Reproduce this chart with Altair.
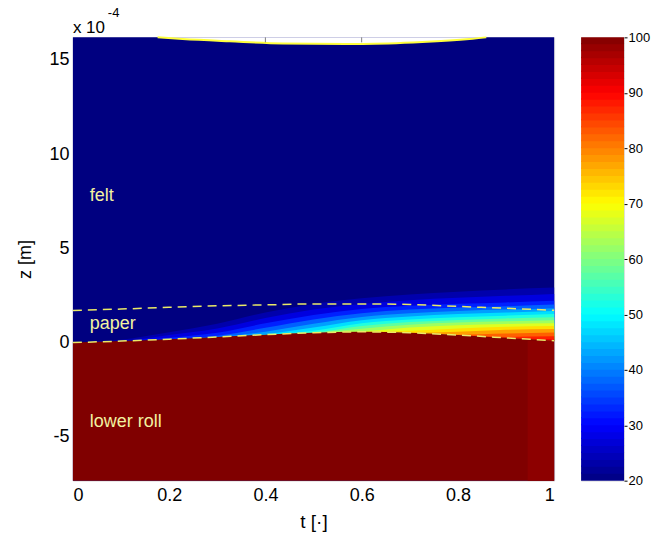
import altair as alt
import pandas as pd

# ---------------- data ----------------
t_stations = [0.0, 0.1, 0.2, 0.3, 0.4, 0.5, 0.6, 0.7, 0.8, 0.9, 1.0]
# lower roll surface (= lower paper boundary), units of 1e-4 m
roll_top = [0.00, 0.08, 0.18, 0.30, 0.42, 0.52, 0.57, 0.52, 0.40, 0.25, 0.10]
# upper paper boundary
paper_top = [1.70, 1.78, 1.87, 1.95, 2.00, 2.05, 2.05, 2.02, 1.92, 1.82, 1.71]

# isotherm heights (z below which T >= level) at each t station
levels = [22, 25, 30, 35, 40, 45, 50, 55, 60, 65, 70, 75, 80, 85, 90]
band_T = [23.5, 27.5, 32.5, 37.5, 42.5, 47.5, 52.5, 57.5, 62.5, 67.5, 72.5, 77.5, 82.5, 87.5, 91.0]
z_22 = [0.00, 0.15, 0.55, 1.00, 1.60, 2.05, 2.35, 2.55, 2.70, 2.82, 2.92]
z_25 = [0.00, 0.08, 0.40, 0.75, 1.30, 1.75, 2.05, 2.25, 2.38, 2.48, 2.58]
z_30 = [0.00, 0.08, 0.26, 0.52, 1.02, 1.46, 1.78, 1.95, 2.06, 2.13, 2.22]
z_35 = [0.00, 0.08, 0.18, 0.36, 0.78, 1.22, 1.55, 1.75, 1.86, 1.93, 2.02]
z_40 = [0.00, 0.08, 0.18, 0.30, 0.58, 1.00, 1.36, 1.55, 1.68, 1.75, 1.82]
z_45 = [0.00, 0.08, 0.18, 0.30, 0.45, 0.80, 1.19, 1.39, 1.51, 1.59, 1.67]
z_50 = [0.00, 0.08, 0.18, 0.30, 0.42, 0.63, 1.03, 1.23, 1.35, 1.43, 1.52]
z_55 = [0.00, 0.08, 0.18, 0.30, 0.42, 0.53, 0.88, 1.09, 1.20, 1.28, 1.35]
z_60 = [0.00, 0.08, 0.18, 0.30, 0.42, 0.52, 0.74, 0.95, 1.06, 1.13, 1.18]
z_65 = [0.00, 0.08, 0.18, 0.30, 0.42, 0.52, 0.60, 0.80, 0.92, 0.99, 1.03]
z_70 = [0.00, 0.08, 0.18, 0.30, 0.42, 0.52, 0.57, 0.63, 0.75, 0.84, 0.88]
z_75 = [0.00, 0.08, 0.18, 0.30, 0.42, 0.52, 0.57, 0.52, 0.58, 0.68, 0.72]
z_80 = [0.00, 0.08, 0.18, 0.30, 0.42, 0.52, 0.57, 0.52, 0.42, 0.48, 0.53]
z_85 = [0.00, 0.08, 0.18, 0.30, 0.42, 0.52, 0.57, 0.52, 0.40, 0.30, 0.33]
z_90 = [0.00, 0.08, 0.18, 0.30, 0.42, 0.52, 0.57, 0.52, 0.40, 0.25, 0.17]
contours = [z_22, z_25, z_30, z_35, z_40, z_45, z_50, z_55, z_60, z_65,
            z_70, z_75, z_80, z_85, z_90]

T_felt = 20
T_roll = 100
T_roll_edge = 99.0
edge_t = [0.945, 1.0]
edge_z_top = 0.10

# upper roll contact (white region at top)
upper_t = [0.176, 0.228, 0.326, 0.436, 0.602, 0.726, 0.824, 0.859]
upper_z = [16.20, 16.11, 15.99, 15.88, 15.85, 15.95, 16.11, 16.20]

label_text = ["felt", "paper", "lower roll"]
label_t = [0.035, 0.035, 0.035]
label_z = [7.77, 1.0, -4.2]

t_range = [0.0, 1.0]
z_range = [-7.33, 16.2]
x_ticks = [0, 0.2, 0.4, 0.6, 0.8, 1]
y_ticks = [-5, 0, 5, 10, 15]
top_ticks = [0.4, 0.6]
cbar_ticks = [20, 30, 40, 50, 60, 70, 80, 90, 100]
cbar_range = [20, 100]
cbar_steps = 64

# ---------------- chart ----------------
FONT = "Liberation Sans"
jet = alt.Scale(domain=[20, 30, 50, 70, 90, 100],
                range=["#000080", "#0000ff", "#00ffff", "#ffff00", "#ff0000", "#800000"],
                interpolate="rgb")

xs = alt.Scale(domain=t_range, nice=False, zero=False)
ys = alt.Scale(domain=z_range, nice=False, zero=False)
x_axis = alt.Axis(title="t [·]", values=x_ticks, format="~g", ticks=False, domain=False,
                  grid=False, labelFontSize=18, titleFontSize=19, titleFontWeight="normal",
                  labelPadding=6, titlePadding=8, labelColor="black", titleColor="black",
                  labelFont=FONT, titleFont=FONT)
y_axis = alt.Axis(title="z [m]", values=y_ticks, labelExpr="'' + datum.value", ticks=False,
                  domain=False, grid=False, labelFontSize=18, titleFontSize=18,
                  titleFontWeight="normal", labelPadding=4, titlePadding=14,
                  labelColor="black", titleColor="black", labelFont=FONT, titleFont=FONT)
X = alt.X("t:Q", scale=xs, axis=x_axis)
Y = alt.Y("z:Q", scale=ys, axis=y_axis, stack=None)
C = alt.Color("T:Q", scale=jet, legend=None)

layers = []
bg = pd.DataFrame({"t": [t_range[0]], "t_end": [t_range[1]], "z": [z_range[0]],
                   "z_end": [z_range[1]], "T": [T_felt]})
layers.append(alt.Chart(bg).mark_rect().encode(x=X, x2="t_end", y=Y, y2="z_end", color=C))

for Tb, zs in zip(band_T, contours):
    df = pd.DataFrame({"t": t_stations, "z": zs, "base": roll_top, "T": Tb})
    layers.append(alt.Chart(df).mark_area(interpolate="monotone").encode(
        x=X, y=Y, y2="base", color=C))

roll_df = pd.DataFrame({"t": t_stations, "z": roll_top, "base": z_range[0], "T": T_roll})
layers.append(alt.Chart(roll_df).mark_area(interpolate="monotone").encode(
    x=X, y=Y, y2="base", color=C))

edge_df = pd.DataFrame({"t": [edge_t[0]], "t_end": [edge_t[1]], "z": [z_range[0]],
                        "z_end": [edge_z_top], "T": [T_roll_edge]})
layers.append(alt.Chart(edge_df).mark_rect().encode(x=X, x2="t_end", y=Y, y2="z_end", color=C))

up_df = pd.DataFrame({"t": upper_t, "z": upper_z, "top": z_range[1]})
layers.append(alt.Chart(up_df).mark_area(interpolate="monotone", color="white").encode(
    x=X, y=Y, y2="top"))
layers.append(alt.Chart(up_df).mark_line(interpolate="monotone", color="#ffff3c",
                                         strokeWidth=2).encode(x=X, y=Y))

tick_df = pd.DataFrame({"t": top_ticks})
layers.append(alt.Chart(tick_df).mark_rule(color="#808080", strokeWidth=1).encode(
    x=X, y=alt.value(0), y2=alt.value(5)))

for zs in (roll_top, paper_top):
    df = pd.DataFrame({"t": t_stations, "z": zs})
    layers.append(alt.Chart(df).mark_line(interpolate="monotone", color="#eaea66",
                                          strokeWidth=1.5, strokeDash=[9, 6]).encode(x=X, y=Y))

lab_df = pd.DataFrame({"t": label_t, "z": label_z, "s": label_text})
layers.append(alt.Chart(lab_df).mark_text(align="left", baseline="middle", fontSize=18,
                                          font=FONT, color="#f2f2a0").encode(
    x=X, y=Y, text="s:N"))

exp_df = pd.DataFrame({"s": ["x 10"]})
layers.append(alt.Chart(exp_df).mark_text(align="left", baseline="alphabetic", fontSize=17,
                                          font=FONT, color="black").encode(
    x=alt.value(0), y=alt.value(-4), text="s:N"))
exp2_df = pd.DataFrame({"s": ["-4"]})
layers.append(alt.Chart(exp2_df).mark_text(align="left", baseline="middle", fontSize=13,
                                           font=FONT, color="black").encode(
    x=alt.value(35), y=alt.value(-24), text="s:N"))

main = alt.layer(*layers).properties(width=482, height=444)

step = (cbar_range[1] - cbar_range[0]) / cbar_steps
v0 = [cbar_range[0] + i * step for i in range(cbar_steps)]
cb_df = pd.DataFrame({"v0": v0,
                      "v1": [min(v + step * 1.2, cbar_range[1]) for v in v0],
                      "vc": [v + step / 2 for v in v0]})
cbar = alt.Chart(cb_df).mark_rect().encode(
    y=alt.Y("v0:Q", scale=alt.Scale(domain=cbar_range, nice=False, zero=False),
            axis=alt.Axis(orient="right", values=cbar_ticks, title=None, ticks=True,
                          tickSize=3, tickColor="black", domain=False, grid=False,
                          labelFontSize=13, labelPadding=1, labelColor="black",
                          labelFont=FONT, labelBaseline="middle")),
    y2="v1",
    x=alt.value(0), x2=alt.value(43),
    color=alt.Color("vc:Q", scale=jet, legend=None),
).properties(width=43, height=444)

chart = alt.hconcat(main, cbar, spacing=22).properties(
    padding={"left": 16, "top": 6, "right": 0, "bottom": 0}
).configure_view(stroke="#7f7f7f", strokeWidth=1).configure(font=FONT)

chart.save("out.html", embed_options={"renderer": "svg", "actions": False})
